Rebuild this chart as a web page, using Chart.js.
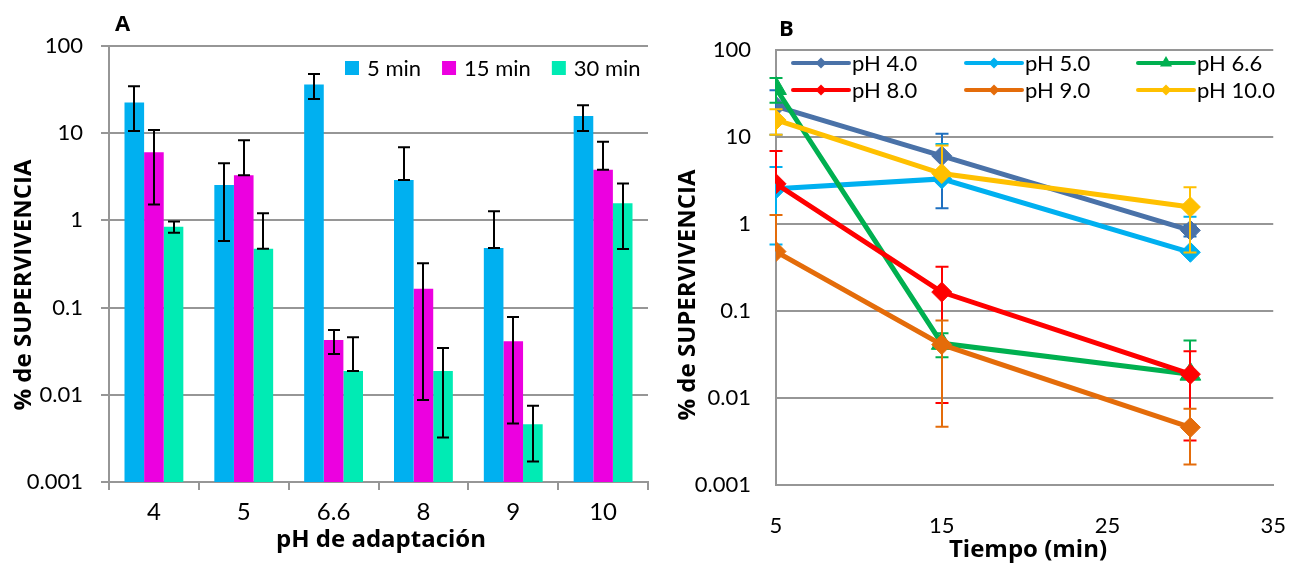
<!DOCTYPE html>
<html><head><meta charset="utf-8">
<script src="https://cdn.jsdelivr.net/npm/chart.js@4.4.1/dist/chart.umd.min.js"></script>
<style>
html,body{margin:0;padding:0;background:#fff;}
#wrap{position:relative;width:1306px;height:563px;overflow:hidden;background:#fff;}
#ca{position:absolute;left:0;top:0;width:660px;height:563px;}
#cb{position:absolute;left:660px;top:0;width:646px;height:563px;}
</style></head><body>
<div id="wrap"><div id="ca"><canvas id="chartA" width="660" height="563"></canvas></div><div id="cb"><canvas id="chartB" width="646" height="563"></canvas></div></div>
<script>
// ---- data ----
const phLabels = ['4', '5', '6.6', '8', '9', '10'];
const timeLabels = ['5 min', '15 min', '30 min'];
const times = [5, 15, 30];
const surv5  = [22.5, 2.54, 36.1, 2.9, 0.482, 15.7];
const surv15 = [6.06, 3.3, 0.0425, 0.165, 0.0411, 3.8];
const surv30 = [0.845, 0.473, 0.0188, 0.0188, 0.0046, 1.57];
const errHi5  = [34.5, 4.53, 47.8, 6.9, 1.27, 20.9];
const errLo5  = [10.6, 0.58, 24.7, null, null, 10.6];
const errHi15 = [10.9, 8.3, 0.0554, 0.322, 0.078, 8.0];
const errLo15 = [1.52, null, 0.0294, 0.00874, 0.00468, null];
const errHi30 = [0.97, 1.21, 0.0457, 0.0344, 0.0075, 2.65];
const errLo30 = [0.72, null, null, 0.00324, 0.00172, 0.469];
const yTicks = [0.001, 0.01, 0.1, 1, 10, 100];
const xTicksB = [5, 15, 25, 35];
const seriesB = ['pH 4.0', 'pH 5.0', 'pH 6.6', 'pH 8.0', 'pH 9.0', 'pH 10.0'];

// ---- styles ----
const FONT = 'Lato, "Open Sans", sans-serif';
const TFONT = '"Open Sans", Lato, sans-serif';
const GRID = '#969696';
const barColors = ['#00B0F0', '#EC00E0', '#00EBB4'];
const lineColors = ['#4A72A8', '#00B0F0', '#00B050', '#FF0000', '#E46C0A', '#FFC000'];
const errColorsB = ['#1F70C0', '#00B0F0', '#00B050', '#FF0000', '#E46C0A', '#FFC000'];

const survByTime = [surv5, surv15, surv30];
const hiByTime = [errHi5, errHi15, errHi30];
const loByTime = [errLo5, errLo15, errLo30];

function fmtTick(v) { return String(v); }
function setLogTicks(scale) { scale.ticks = yTicks.map(v => ({ value: v })); }

Chart.defaults.font.family = FONT;
Chart.defaults.color = '#000';

// ---------- Chart A ----------
const errPluginA = {
  id: 'errA',
  afterDatasetsDraw(chart) {
    const ctx = chart.ctx, y = chart.scales.y;
    ctx.save();
    ctx.strokeStyle = '#000';
    ctx.lineWidth = 2;
    chart.data.datasets.forEach((ds, k) => {
      const meta = chart.getDatasetMeta(k);
      meta.data.forEach((bar, i) => {
        const yv = y.getPixelForValue(survByTime[k][i]);
        const yh = y.getPixelForValue(hiByTime[k][i]);
        const lo = loByTime[k][i];
        const yl = lo != null ? y.getPixelForValue(lo) : yv;
        const x = Math.round(bar.x);
        ctx.beginPath();
        ctx.moveTo(x, yh); ctx.lineTo(x, yl);
        ctx.moveTo(x - 6, yh); ctx.lineTo(x + 6, yh);
        ctx.moveTo(x - 6, yl); ctx.lineTo(x + 6, yl);
        ctx.stroke();
      });
    });
    ctx.restore();
  }
};
const decorA = {
  id: 'decorA',
  afterDraw(chart) {
    const ctx = chart.ctx;
    ctx.save();
    ctx.fillStyle = '#000';
    ctx.font = 'bold 22px ' + TFONT;
    ctx.textAlign = 'left'; ctx.textBaseline = 'alphabetic';
    ctx.fillText('A', 115, 31);
    ctx.font = 'bold 24px ' + TFONT;
    ctx.textAlign = 'center';
    ctx.fillText('pH de adaptación', 381, 547);
    ctx.save();
    ctx.translate(24, 285);
    ctx.rotate(-Math.PI / 2);
    ctx.textBaseline = 'middle';
    ctx.fillText('% de SUPERVIVENCIA', 0, 0);
    ctx.restore();
    // legend
    ctx.font = '22px ' + FONT;
    ctx.textAlign = 'left'; ctx.textBaseline = 'middle';
    let x = 345;
    timeLabels.forEach((t, k) => {
      ctx.fillStyle = barColors[k];
      ctx.fillRect(x, 61, 14, 14);
      ctx.fillStyle = '#000';
      ctx.fillText(t, x + 22, 69);
      x += 22 + ctx.measureText(t).width + 21;
    });
    ctx.restore();
  }
};

new Chart(document.getElementById('chartA'), {
  type: 'bar',
  data: {
    labels: phLabels,
    datasets: timeLabels.map((t, k) => ({
      label: t,
      data: survByTime[k],
      backgroundColor: barColors[k],
      borderWidth: 0,
      categoryPercentage: 0.655,
      barPercentage: 1.0
    }))
  },
  options: {
    responsive: false,
    animation: false,
    devicePixelRatio: 1,
    layout: { padding: { left: 0, right: 12, top: 46, bottom: 0 } },
    plugins: { legend: { display: false }, tooltip: { enabled: false } },
    scales: {
      x: {
        type: 'category',
        grid: { display: true, drawOnChartArea: false, drawTicks: true, tickLength: 8, color: GRID, lineWidth: 2, offset: true },
        border: { display: true, color: GRID, width: 2 },
        ticks: { font: { size: 24 }, color: '#000', padding: 8, maxRotation: 0 },
        afterFit(s) { s.height = 81; }
      },
      y: {
        type: 'logarithmic',
        min: 0.001, max: 100,
        afterBuildTicks: setLogTicks,
        grid: { color: GRID, lineWidth: 2, drawTicks: true, tickLength: 8 },
        border: { display: true, color: GRID, width: 2 },
        ticks: { font: { size: 22 }, color: '#000', padding: 18, callback: fmtTick },
        afterFit(s) { s.width = 109; }
      }
    }
  },
  plugins: [errPluginA, decorA]
});

// ---------- Chart B ----------
const errPluginB = {
  id: 'errB',
  beforeDatasetDraw(chart, args) {
    const k = args.index;
    const ctx = chart.ctx, y = chart.scales.y, xs = chart.scales.x;
    ctx.save();
    ctx.strokeStyle = errColorsB[k];
    ctx.lineWidth = 2;
    times.forEach((t, j) => {
      const x = Math.round(xs.getPixelForValue(t));
      const yv = y.getPixelForValue(survByTime[j][k]);
      const yh = y.getPixelForValue(hiByTime[j][k]);
      const lo = loByTime[j][k];
      const yl = lo != null ? y.getPixelForValue(lo) : yv;
      ctx.beginPath();
      ctx.moveTo(x, yh); ctx.lineTo(x, yl);
      ctx.moveTo(x - 6.5, yh); ctx.lineTo(x + 6.5, yh);
      if (lo != null) { ctx.moveTo(x - 6.5, yl); ctx.lineTo(x + 6.5, yl); }
      ctx.stroke();
    });
    ctx.restore();
  }
};
function drawMarker(ctx, style, x, y, r, color) {
  ctx.fillStyle = color;
  ctx.beginPath();
  if (style === 'triangle') {
    ctx.moveTo(x, y - r);
    ctx.lineTo(x + r * 0.866, y + r * 0.5);
    ctx.lineTo(x - r * 0.866, y + r * 0.5);
  } else {
    ctx.moveTo(x - r, y); ctx.lineTo(x, y - r); ctx.lineTo(x + r, y); ctx.lineTo(x, y + r);
  }
  ctx.closePath();
  ctx.fill();
}
const decorB = {
  id: 'decorB',
  afterDraw(chart) {
    const ctx = chart.ctx;
    ctx.save();
    ctx.fillStyle = '#000';
    ctx.font = 'bold 22px ' + TFONT;
    ctx.textAlign = 'left'; ctx.textBaseline = 'alphabetic';
    ctx.fillText('B', 119, 36);
    ctx.font = 'bold 24px ' + TFONT;
    ctx.textAlign = 'center';
    ctx.fillText('Tiempo (min)', 368, 557);
    ctx.save();
    ctx.translate(28, 295);
    ctx.rotate(-Math.PI / 2);
    ctx.textBaseline = 'middle';
    ctx.fillText('% de SUPERVIVENCIA', 0, 0);
    ctx.restore();
    // legend
    const colX = [133, 306, 478];
    const rowY = [63, 90];
    ctx.font = '22px ' + FONT;
    ctx.textAlign = 'left'; ctx.textBaseline = 'middle';
    seriesB.forEach((name, i) => {
      const x0 = colX[i % 3], yy = rowY[Math.floor(i / 3)];
      ctx.strokeStyle = lineColors[i];
      ctx.lineWidth = 4;
      ctx.lineCap = 'round';
      ctx.beginPath(); ctx.moveTo(x0, yy); ctx.lineTo(x0 + 56, yy); ctx.stroke();
      drawMarker(ctx, i === 2 ? 'triangle' : 'rectRot', x0 + 28, yy, i === 2 ? 7 : 5.5, lineColors[i]);
      ctx.fillStyle = '#000';
      ctx.fillText(name, x0 + 59, yy + 1);
    });
    ctx.restore();
  }
};

new Chart(document.getElementById('chartB'), {
  type: 'line',
  data: {
    datasets: seriesB.map((name, i) => ({
      label: name,
      data: times.map((t, j) => ({ x: t, y: survByTime[j][i] })),
      borderColor: lineColors[i],
      backgroundColor: lineColors[i],
      pointBackgroundColor: lineColors[i],
      pointBorderColor: lineColors[i],
      borderWidth: 5,
      pointStyle: i === 2 ? 'triangle' : 'rectRot',
      pointRadius: i === 2 ? 12 : 10,
      pointBorderWidth: 1,
      tension: 0,
      fill: false,
      order: 6 - i
    }))
  },
  options: {
    responsive: false,
    animation: false,
    devicePixelRatio: 1,
    layout: { padding: { left: 0, right: 25, top: 50, bottom: 0 } },
    plugins: { legend: { display: false }, tooltip: { enabled: false } },
    scales: {
      x: {
        type: 'linear',
        min: 5, max: 35,
        afterBuildTicks(s) { s.ticks = xTicksB.map(v => ({ value: v })); },
        grid: { display: false },
        border: { display: true, color: GRID, width: 2 },
        ticks: { font: { size: 22 }, color: '#000', padding: 20, maxRotation: 0 },
        afterFit(s) { s.height = 78; }
      },
      y: {
        type: 'logarithmic',
        min: 0.001, max: 100,
        afterBuildTicks: setLogTicks,
        grid: { color: GRID, lineWidth: 2, drawTicks: false },
        border: { display: true, color: GRID, width: 2 },
        ticks: { font: { size: 22 }, color: '#000', padding: 25, callback: fmtTick },
        afterFit(s) { s.width = 116; }
      }
    }
  },
  plugins: [errPluginB, decorB]
});
</script>
</body></html>
